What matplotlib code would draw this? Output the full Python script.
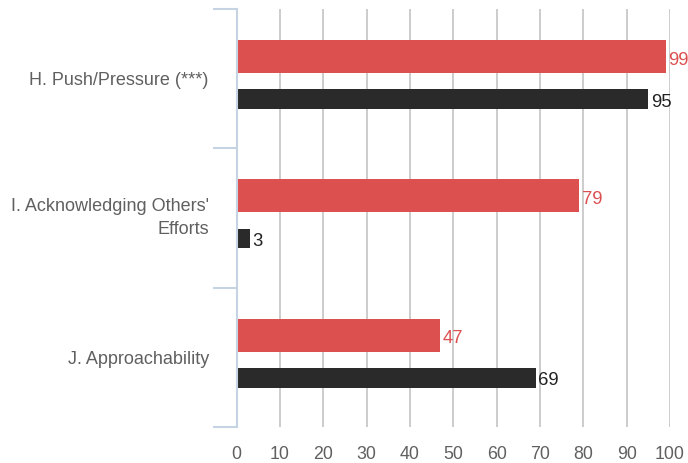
import matplotlib
matplotlib.use("Agg")
import matplotlib.pyplot as plt
import matplotlib.transforms as mtransforms
import numpy as np

categories = ["H. Push/Pressure (***)", "I. Acknowledging Others'\nEfforts", "J. Approachability"]
series_red = [99, 79, 47]
series_dark = [95, 3, 69]
xticks = [0, 10, 20, 30, 40, 50, 60, 70, 80, 90, 100]

RED = "#dc5050"
DARK = "#2a2a2a"
TXT = "#606060"

plt.rcParams['font.family'] = ['Liberation Sans', 'DejaVu Sans']

fig = plt.figure(figsize=(6.88, 4.63), dpi=100)
ax = fig.add_axes([0.3438, 0.0778, 0.6300, 0.9028])

y = np.arange(len(categories))
red_h = 0.237
dark_h = 0.142
red_off = -0.158
dark_off = 0.147

ax.barh(y + red_off, series_red, height=red_h, color=RED, zorder=3)
ax.barh(y + dark_off, series_dark, height=dark_h, color=DARK, zorder=3)

for yi, v in zip(y, series_red):
    ax.text(v + 0.6, yi + red_off + 0.025, f"{v}", color=RED, va='center', ha='left', fontsize=13.3, zorder=4)
for yi, v in zip(y, series_dark):
    ax.text(v + 0.6, yi + dark_off + 0.022, f"{v}", color="#222222", va='center', ha='left', fontsize=13.3, zorder=4)

ax.set_xlim(0, 100)
ax.set_ylim(len(categories) - 0.5, -0.5)
ax.set_xticks(xticks)
ax.set_xticklabels([str(t) for t in xticks], color=TXT, fontsize=12.8)
ax.tick_params(axis='x', length=0, pad=14)

ax.set_yticks(y)
ax.set_yticklabels(categories, color=TXT, fontsize=13.0, ha='right', linespacing=1.5)
ax.tick_params(axis='y', which='major', length=0, pad=20)
ax.set_yticks(np.arange(len(categories) + 1) - 0.5, minor=True)
ax.tick_params(axis='y', which='minor', length=17, width=1.5, color="#c5d3e3")

# nudge the two-line label slightly upward as in the reference
lbl = ax.get_yticklabels()[1]
lbl.set_transform(lbl.get_transform() + mtransforms.ScaledTranslation(0, 5 / 100, fig.dpi_scale_trans))

ax.grid(axis='x', color="#c8c8c8", linewidth=1.3, zorder=0)
ax.grid(axis='y', visible=False)
for s in ['top', 'right', 'bottom']:
    ax.spines[s].set_visible(False)
ax.spines['left'].set_color("#c5d3e3")
ax.spines['left'].set_linewidth(1.5)
ax.spines['left'].set_zorder(5)

fig.savefig("out.png", dpi=100)
